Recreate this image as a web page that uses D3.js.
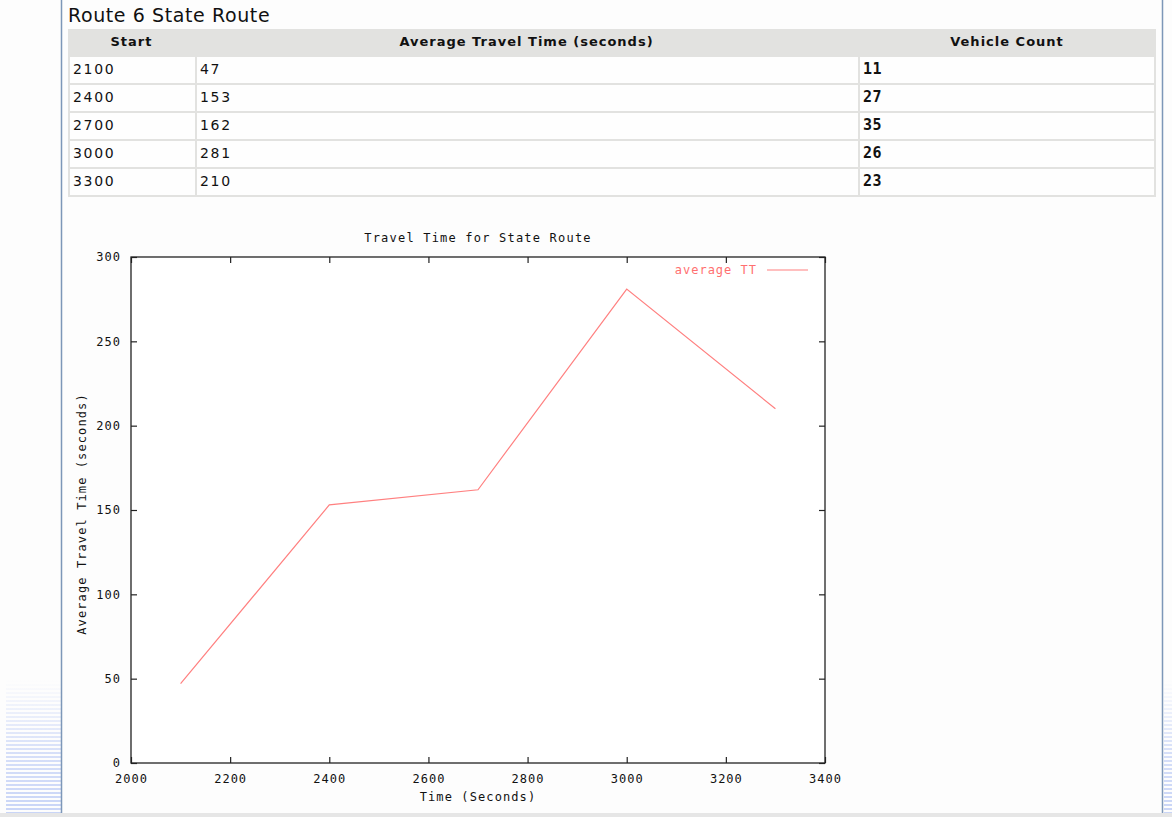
<!DOCTYPE html>
<html><head><meta charset="utf-8">
<script src="https://cdn.jsdelivr.net/npm/d3@7"></script>
<style>
html,body{margin:0;padding:0;background:#fdfdfd;overflow:hidden}
svg{display:block}
</style></head>
<body>
<script>
const pageTitle = "Route 6 State Route";
const columns = ["Start", "Average Travel Time (seconds)", "Vehicle Count"];
const starts = [2100, 2400, 2700, 3000, 3300];
const avgTT = [47, 153, 162, 281, 210];
const vehicleCounts = [11, 27, 35, 26, 23];
const chartTitle = "Travel Time for State Route";
const xLabel = "Time (Seconds)";
const yLabel = "Average Travel Time (seconds)";
const legendLabel = "average TT";
const xTicks = [2000, 2200, 2400, 2600, 2800, 3000, 3200, 3400];
const yTicks = [0, 50, 100, 150, 200, 250, 300];

const W = 1172, H = 817;
const svg = d3.select("body").append("svg").attr("width", W).attr("height", H);

// page decoration
const defs = svg.append("defs");
const pat = defs.append("pattern").attr("id","stripes").attr("width",4).attr("height",4).attr("patternUnits","userSpaceOnUse");
pat.append("rect").attr("width",4).attr("height",4).attr("fill","#fdfdfd");
pat.append("rect").attr("width",4).attr("height",2).attr("fill","#c9d5f7");
const fade = defs.append("linearGradient").attr("id","fade").attr("x1",0).attr("y1",0).attr("x2",0).attr("y2",1);
fade.append("stop").attr("offset",0).attr("stop-color","#fdfdfd").attr("stop-opacity",1);
fade.append("stop").attr("offset",0.55).attr("stop-color","#fdfdfd").attr("stop-opacity",0.25);
fade.append("stop").attr("offset",1).attr("stop-color","#fdfdfd").attr("stop-opacity",0);
svg.append("rect").attr("x",6).attr("y",680).attr("width",55).attr("height",133).attr("fill","url(#stripes)");
svg.append("rect").attr("x",6).attr("y",680).attr("width",55).attr("height",133).attr("fill","url(#fade)");
svg.append("rect").attr("x",1164).attr("y",680).attr("width",8).attr("height",133).attr("fill","url(#stripes)");
svg.append("rect").attr("x",1164).attr("y",680).attr("width",8).attr("height",133).attr("fill","url(#fade)");
svg.append("line").attr("x1",61.5).attr("x2",61.5).attr("y1",0).attr("y2",813).attr("stroke","#7d97b8").attr("stroke-width",1.5);
svg.append("line").attr("x1",1162.5).attr("x2",1162.5).attr("y1",0).attr("y2",813).attr("stroke","#7d97b8").attr("stroke-width",1.5);
svg.append("rect").attr("x",0).attr("y",813).attr("width",W).attr("height",4).attr("fill","#e6e6e6");

// title
svg.append("text").attr("x",68).attr("y",22).attr("font-family","DejaVu Sans").attr("font-size",19)
  .attr("letter-spacing","0.6px").attr("fill","#111").text(pageTitle);

// table
const tX = 68, tR = 1156, colX = [68, 195, 858, 1156];
const headY = 29, headH = 26, rowH = 28;
const nRows = starts.length;
svg.append("rect").attr("x",tX).attr("y",headY).attr("width",tR-tX).attr("height",headH + nRows*rowH + 2).attr("fill","#e2e2e0");
columns.forEach((c,i)=>{
  svg.append("text").attr("x",(colX[i]+colX[i+1])/2).attr("y",headY+17).attr("text-anchor","middle")
   .attr("font-family","DejaVu Sans").attr("font-weight","bold").attr("font-size",13).attr("letter-spacing","1px")
   .attr("fill","#111").text(c);
});
const rows = starts.map((s,i)=>[s, avgTT[i], vehicleCounts[i]]);
const rowG = svg.selectAll("g.row").data(rows).join("g").attr("class","row")
  .attr("transform",(d,i)=>`translate(0,${headY+headH+i*rowH})`);
[0,1,2].forEach(ci=>{
  rowG.append("rect").attr("x",colX[ci]+2).attr("y",2).attr("width",colX[ci+1]-colX[ci]-2-(ci===2?2:0)).attr("height",rowH-2).attr("fill","#fefefe");
  rowG.append("text").attr("x",colX[ci]+5).attr("y",19)
   .attr("font-family", ci===2 ? "DejaVu Sans Mono" : "DejaVu Sans")
   .attr("font-weight", ci===2 ? "bold" : "normal")
   .attr("font-size", ci===2 ? 15 : 14)
   .attr("letter-spacing", ci===2 ? "0.5px" : "1.7px")
   .attr("fill","#111")
   .text(d=>d[ci]);
});

// chart
const m = {l:131, r:825, t:257, b:763};
const x = d3.scaleLinear().domain([2000,3400]).range([m.l,m.r]);
const y = d3.scaleLinear().domain([0,300]).range([m.b,m.t]);
const mono = "DejaVu Sans Mono";
const g = svg.append("g");
g.append("rect").attr("x",m.l).attr("y",m.t).attr("width",m.r-m.l).attr("height",m.b-m.t).attr("fill","#fff");

const fmt = d3.format("d");
const ax = g.append("g").attr("transform",`translate(0,${m.b})`)
  .call(d3.axisBottom(x).tickValues(xTicks).tickFormat(fmt).tickSizeInner(-6).tickSizeOuter(0).tickPadding(11));
const axTop = g.append("g").attr("transform",`translate(0,${m.t})`)
  .call(d3.axisTop(x).tickValues(xTicks).tickFormat("").tickSizeInner(-6).tickSizeOuter(0));
const ay = g.append("g").attr("transform",`translate(${m.l},0)`)
  .call(d3.axisLeft(y).tickValues(yTicks).tickFormat(fmt).tickSizeInner(-6).tickSizeOuter(0).tickPadding(10));
const ayR = g.append("g").attr("transform",`translate(${m.r},0)`)
  .call(d3.axisRight(y).tickValues(yTicks).tickFormat("").tickSizeInner(-6).tickSizeOuter(0));
[ax,axTop,ay,ayR].forEach(a=>{
  a.select(".domain").remove();
  a.selectAll("line").attr("stroke","#222").attr("stroke-width",1.2);
  a.selectAll("text").attr("font-family",mono).attr("font-size",12).attr("fill","#111").attr("letter-spacing","1px");
});
ax.selectAll("text").attr("dy","0.71em");
g.append("rect").attr("x",m.l).attr("y",m.t).attr("width",m.r-m.l).attr("height",m.b-m.t)
  .attr("fill","none").attr("stroke","#222").attr("stroke-width",1.3);

const line = d3.line().x((d,i)=>x(starts[i])).y(d=>y(d));
g.append("path").datum(avgTT).attr("d",line).attr("fill","none").attr("stroke","#ff8080").attr("stroke-width",1.2);

// legend
g.append("text").attr("x",757).attr("y",274).attr("text-anchor","end").attr("font-family",mono).attr("font-size",12)
  .attr("letter-spacing","1px").attr("fill","#ff7070").text(legendLabel);
g.append("line").attr("x1",767).attr("x2",808).attr("y1",270).attr("y2",270).attr("stroke","#ff8080").attr("stroke-width",1.2);

// titles
g.append("text").attr("x",(m.l+m.r)/2).attr("y",242).attr("text-anchor","middle").attr("font-family",mono)
  .attr("font-size",12).attr("letter-spacing","1.2px").attr("fill","#111").text(chartTitle);
g.append("text").attr("x",(m.l+m.r)/2).attr("y",801).attr("text-anchor","middle").attr("font-family",mono)
  .attr("font-size",12).attr("letter-spacing","1.1px").attr("fill","#111").text(xLabel);
g.append("text").attr("transform",`translate(86,${(m.t+m.b)/2+4}) rotate(-90)`).attr("text-anchor","middle").attr("font-family",mono)
  .attr("font-size",12).attr("letter-spacing","1.1px").attr("fill","#111").text(yLabel);
</script>
</body></html>
